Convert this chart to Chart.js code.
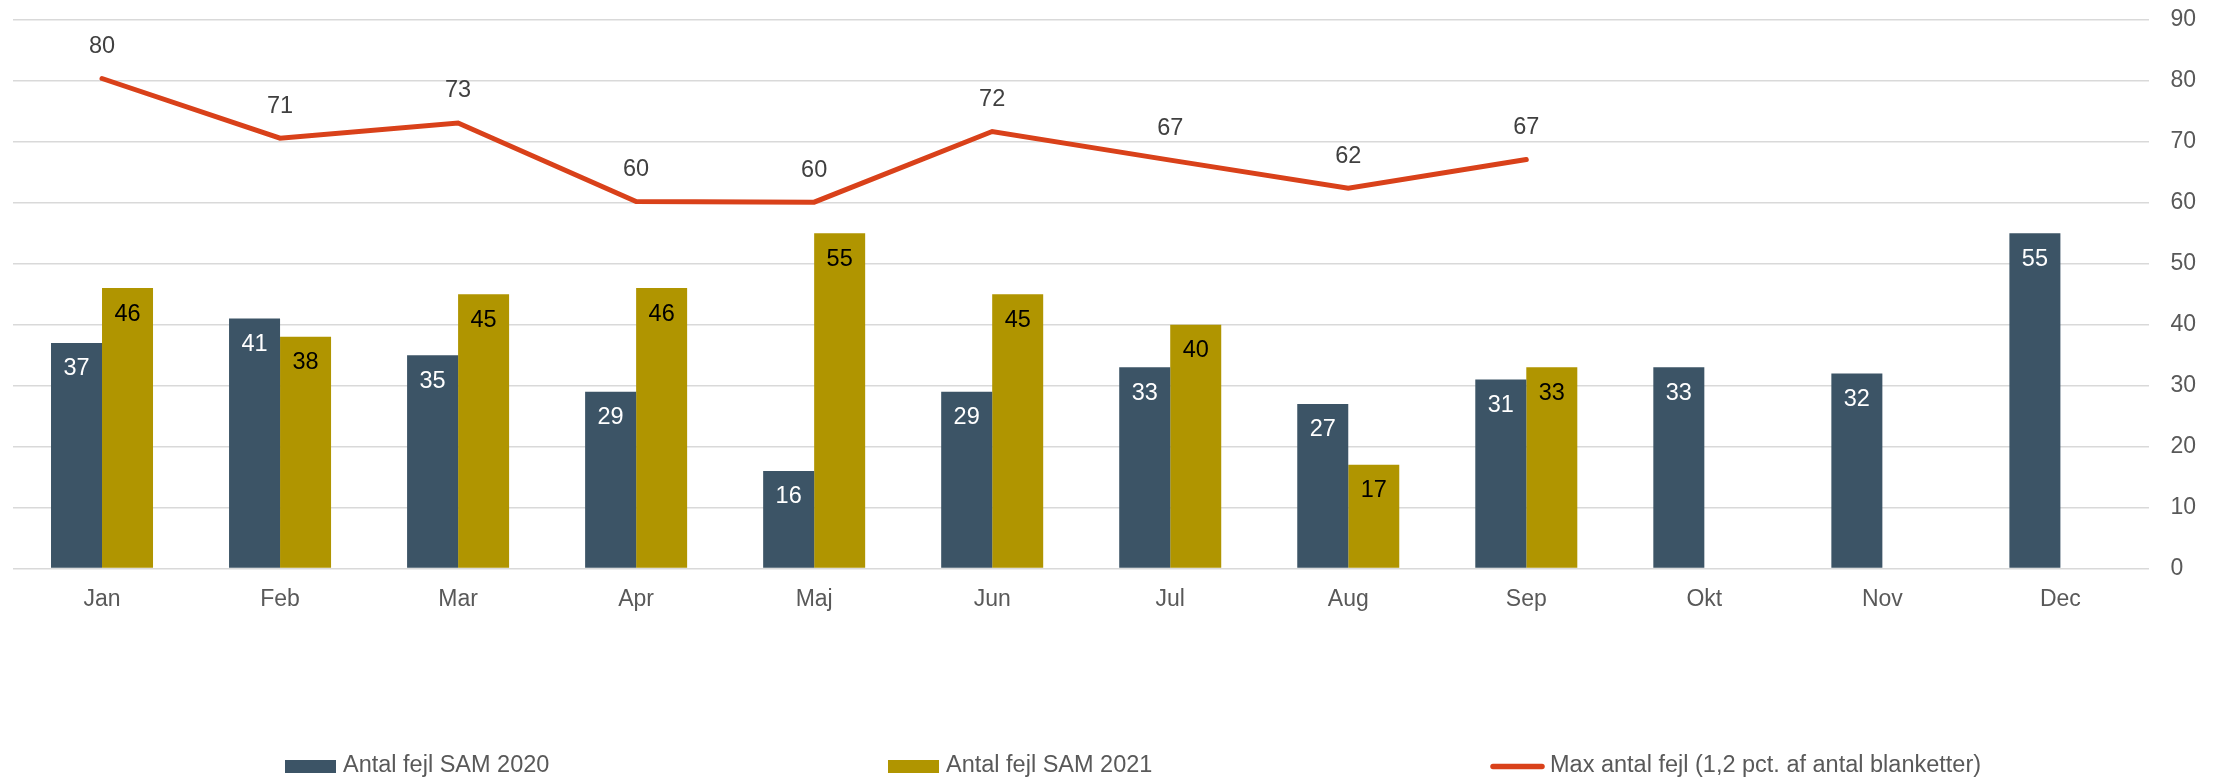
<!DOCTYPE html>
<html><head><meta charset="utf-8">
<script src="https://cdn.jsdelivr.net/npm/chart.js@4/dist/chart.umd.min.js"></script>
<style>html,body{margin:0;padding:0;background:#fff}#wrap{width:2221px;height:778px}</style>
</head><body><div id="wrap"><canvas id="c" width="2221" height="778"></canvas></div>
<script>
const categories = ['Jan','Feb','Mar','Apr','Maj','Jun','Jul','Aug','Sep','Okt','Nov','Dec'];
const sam2020 = [37,41,35,29,16,29,33,27,31,33,32,55];
const sam2021 = [46,38,45,46,55,45,40,17,33,null,null,null];
const maxFejl = [80.4,70.6,73.1,60.2,60.1,71.7,67.0,62.4,67.1,null,null,null];
const yTicks = [0,10,20,30,40,50,60,70,80,90];
const seriesNames = ['Antal fejl SAM 2020','Antal fejl SAM 2021','Max antal fejl (1,2 pct. af antal blanketter)'];

const FONT = '"Liberation Sans", Arial, sans-serif';
const C_BLUE = '#3C5466', C_GOLD = '#B09500', C_LINE = '#D9411A';

const labelPlugin = {
  id: 'valueLabels',
  afterDatasetsDraw(chart) {
    const ctx = chart.ctx;
    ctx.save();
    ctx.font = '23.5px ' + FONT;
    ctx.textAlign = 'center';
    ctx.textBaseline = 'middle';
    chart.data.datasets.forEach((ds, di) => {
      const meta = chart.getDatasetMeta(di);
      meta.data.forEach((el, i) => {
        const v = ds.data[i];
        if (v === null || v === undefined) return;
        if (ds.type === 'line') {
          ctx.fillStyle = '#404040';
          ctx.fillText(String(Math.round(v)), el.x, el.y - 32);
        } else {
          ctx.fillStyle = ds.labelColor;
          ctx.fillText(String(Math.round(v)), el.x, el.y + 26);
        }
      });
    });
    ctx.restore();
  }
};

const legendPlugin = {
  id: 'customLegend',
  afterDraw(chart, args, opts) {
    const ctx = chart.ctx;
    ctx.save();
    ctx.font = '23.5px ' + FONT;
    ctx.textBaseline = 'middle';
    ctx.textAlign = 'left';
    const y = opts.y;
    chart.data.datasets.forEach((ds, i) => {
      const x = opts.starts[i];
      if (ds.type === 'line') {
        ctx.strokeStyle = ds.borderColor;
        ctx.lineWidth = 5.5;
        ctx.lineCap = 'round';
        ctx.beginPath();
        ctx.moveTo(x + 3, y + 0.5);
        ctx.lineTo(x + 52, y + 0.5);
        ctx.stroke();
        ctx.fillStyle = '#595959';
        ctx.fillText(ds.label, x + 60, y);
      } else {
        ctx.fillStyle = ds.backgroundColor;
        ctx.fillRect(x, y - 6, 51, 13);
        ctx.fillStyle = '#595959';
        ctx.fillText(ds.label, x + 58, y);
      }
    });
    ctx.restore();
  }
};

new Chart(document.getElementById('c'), {
  data: {
    labels: categories,
    datasets: [
      { type: 'line', label: seriesNames[2], data: maxFejl, borderColor: C_LINE, backgroundColor: C_LINE,
        borderWidth: 5, pointRadius: 0, borderCapStyle: 'round', tension: 0, order: 0 },
      { type: 'bar', label: seriesNames[0], data: sam2020, backgroundColor: C_BLUE, labelColor: '#FFFFFF',
        categoryPercentage: 0.573, barPercentage: 1.0, order: 1 },
      { type: 'bar', label: seriesNames[1], data: sam2021, backgroundColor: C_GOLD, labelColor: '#000000',
        categoryPercentage: 0.573, barPercentage: 1.0, order: 1 }
    ]
  },
  options: {
    responsive: false,
    animation: false,
    devicePixelRatio: 1,
    layout: { padding: { left: 13, right: 4, top: 20, bottom: 148 } },
    plugins: {
      legend: { display: false },
      tooltip: { enabled: false },
      customLegend: { y: 766, starts: [1490, 285, 888] }
    },
    scales: {
      x: {
        grid: { display: false, drawTicks: false },
        border: { display: false },
        ticks: { color: '#595959', font: { family: FONT, size: 23 }, padding: 17, maxRotation: 0 }
      },
      y: {
        position: 'right',
        min: 0, max: 90,
        afterBuildTicks: axis => { axis.ticks = yTicks.map(v => ({ value: v })); },
        afterFit: axis => { axis.paddingTop = 0; axis.paddingBottom = 0; },
        grid: { color: '#D9D9D9', lineWidth: 1.5, drawTicks: false },
        border: { display: false },
        ticks: { color: '#595959', font: { family: FONT, size: 23 }, padding: 21 }
      }
    }
  },
  plugins: [labelPlugin, legendPlugin]
});
</script>
</body></html>
